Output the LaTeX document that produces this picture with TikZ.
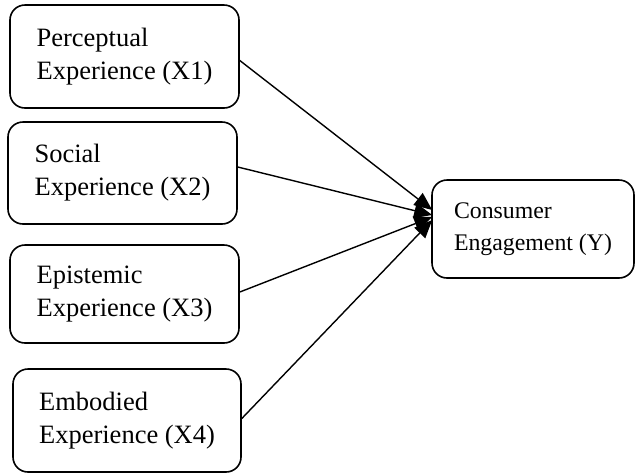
\documentclass[tikz,border=0pt]{standalone}
\usepackage{fontspec}
\setmainfont{Liberation Serif}
\usetikzlibrary{arrows.meta,calc}
\tikzset{
  varbox/.style={draw, line width=0.8pt, rounded corners=7.5pt, align=left,
    minimum width=114.5pt, inner sep=0pt,
    font=\fontsize{13.25}{16.5}\selectfont},
  path/.style={line width=0.7pt, -{Triangle[length=9pt,width=7.5pt]}}
}

\begin{document}
\begin{tikzpicture}[x=0.5pt,y=-0.5pt]
        \useasboundingbox (0,0) rectangle (635,473);

        \node[varbox, minimum height=51.5pt] (X1) at (124.5,56.5) {Perceptual\\Experience (X1)};
        \node[varbox, minimum height=51pt] (X2) at (122.5,173) {Social\\Experience (X2)};
        \node[varbox, minimum height=49pt] (X3) at (124.5,294) {Epistemic\\Experience (X3)};
        \node[varbox, minimum height=51.5pt, minimum width=114pt] (X4) at (127,420.5) {Embodied\\Experience (X4)};
        \node[varbox, minimum height=49pt, minimum width=101pt,
              font=\fontsize{11.9}{16}\selectfont] (Y) at (533,229) {Consumer\\Engagement (Y)};

        \coordinate (t1) at ($(Y.west)+(1,-19)$);
        \coordinate (t2) at ($(Y.west)+(1,-14)$);
        \coordinate (t3) at ($(Y.west)+(1,-12)$);
        \coordinate (t4) at ($(Y.west)+(1,-9)$);

        \draw[path] ([yshift=-2pt]X1.east) -- (t1);
        \draw[path] ([yshift=3pt]X2.east) -- (t2);
        \draw[path] ([yshift=1pt]X3.east) -- (t3);
        \draw[path] ([yshift=1pt]X4.east) -- (t4);
    \end{tikzpicture}
\end{document}
